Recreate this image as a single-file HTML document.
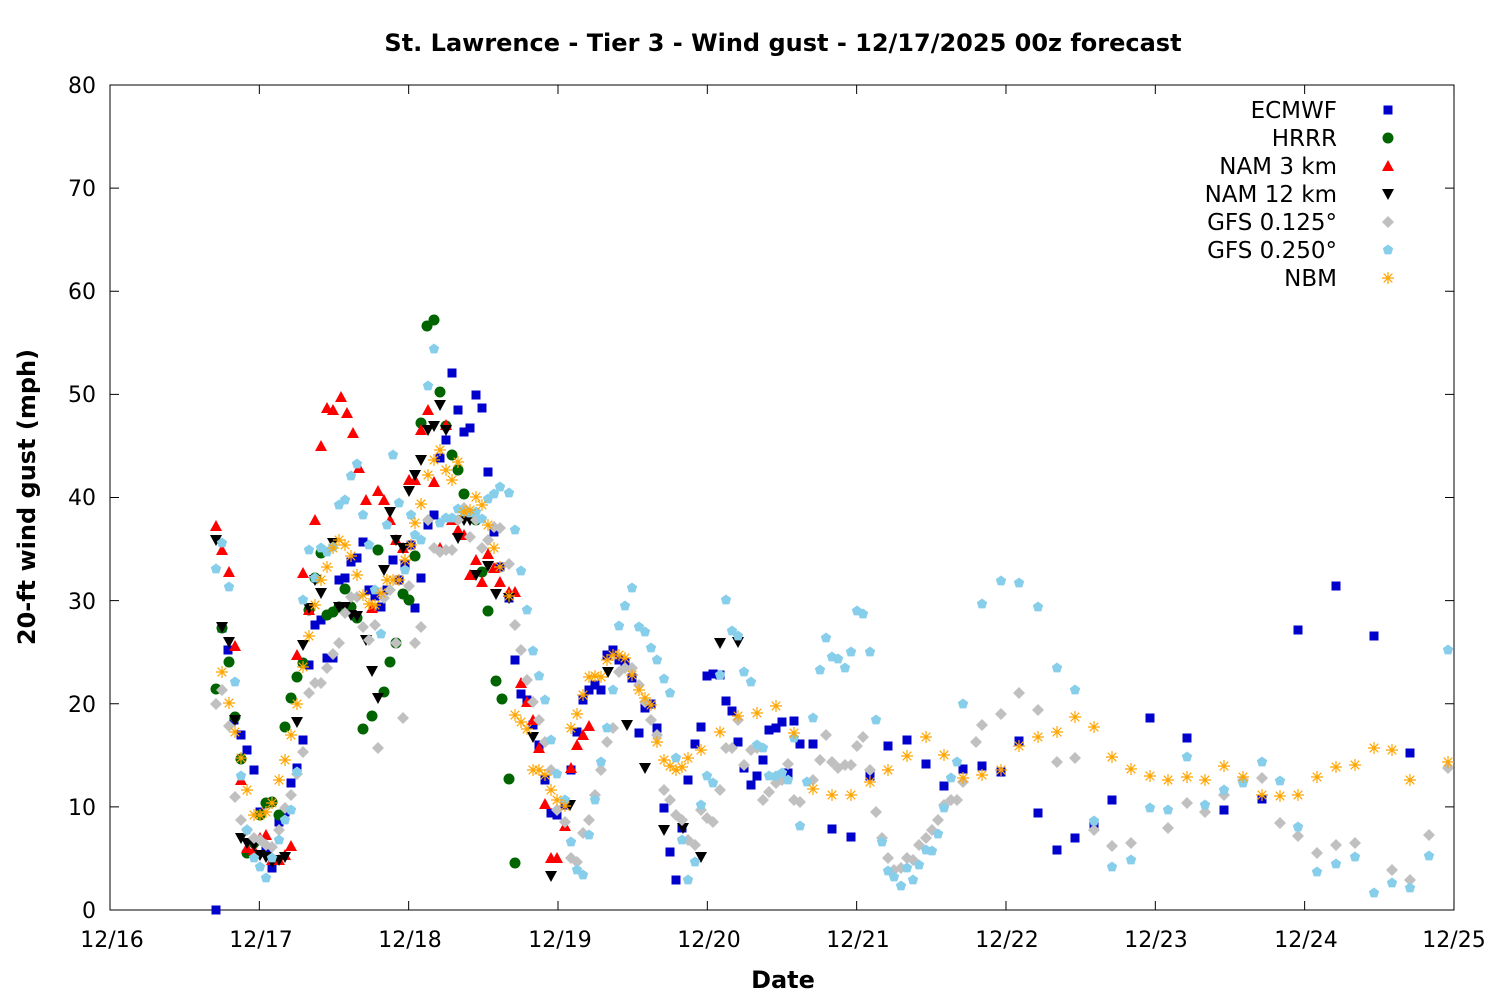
<!DOCTYPE html>
<html><head><meta charset="utf-8"><style>
html,body{margin:0;padding:0;background:#fff;}
svg text{font-family:"DejaVu Sans","Liberation Sans",sans-serif;}
</style></head><body>
<svg id="c" width="1500" height="1000" xmlns="http://www.w3.org/2000/svg">
<rect width="1500" height="1000" fill="#fff"/>
<text x="783" y="51" text-anchor="middle" font-size="24" font-weight="bold">St. Lawrence - Tier 3 - Wind gust - 12/17/2025 00z forecast</text>
<rect x="110" y="85" width="1344" height="825" fill="none" stroke="#000" stroke-width="1"/>
<g id="ticks" stroke="#000" stroke-width="1"></g>
<g font-size="22" text-anchor="end">
<text x="96" y="918">0</text><text x="96" y="815">10</text><text x="96" y="712">20</text><text x="96" y="609">30</text><text x="96" y="505">40</text><text x="96" y="402">50</text><text x="96" y="299">60</text><text x="96" y="196">70</text><text x="96" y="93">80</text>
</g>
<g font-size="22" text-anchor="middle">
<text x="112" y="947">12/16</text><text x="261" y="947">12/17</text><text x="410" y="947">12/18</text><text x="560" y="947">12/19</text><text x="709" y="947">12/20</text><text x="858" y="947">12/21</text><text x="1007" y="947">12/22</text><text x="1156" y="947">12/23</text><text x="1306" y="947">12/24</text><text x="1454" y="947">12/25</text>
</g>
<text x="783" y="988" text-anchor="middle" font-size="24" font-weight="bold">Date</text>
<text transform="translate(35,497) rotate(-90)" text-anchor="middle" font-size="24" font-weight="bold">20-ft wind gust (mph)</text>
<g font-size="23" text-anchor="end">
<text x="1337" y="118">ECMWF</text><text x="1337" y="146">HRRR</text><text x="1337" y="174">NAM 3 km</text><text x="1337" y="202">NAM 12 km</text><text x="1337" y="230">GFS 0.125°</text><text x="1337" y="258">GFS 0.250°</text><text x="1337" y="286">NBM</text>
</g>
<g id="pts"></g>
</svg>
<script>
var NS="http://www.w3.org/2000/svg",g=document.getElementById('pts'),tk=document.getElementById('ticks');
function el(n,a,p){var e=document.createElementNS(NS,n);for(var k in a)e.setAttribute(k,a[k]);(p||g).appendChild(e);return e;}
for(var i=0;i<=8;i++){var y=910-i*103.125;el('line',{x1:110,y1:y,x2:119,y2:y},tk);el('line',{x1:1454,y1:y,x2:1445,y2:y},tk);}
for(var i=0;i<=9;i++){var x=110+i*149.33;el('line',{x1:x,y1:910,x2:x,y2:901},tk);el('line',{x1:x,y1:85,x2:x,y2:94},tk);}
function P(s){var a=s.split(/[^0-9.]+/).filter(function(t){return t!==''}).map(Number),r=[];for(var i=0;i+1<a.length;i+=2)r.push([a[i],a[i+1]]);return r;}
var M={
sq:function(x,y,c){el('rect',{x:x-4.5,y:y-4.5,width:9,height:9,fill:c});},
ci:function(x,y,c){el('circle',{cx:x,cy:y,r:5.5,fill:c});},
tu:function(x,y,c){el('polygon',{points:(x-6)+','+(y+5)+' '+(x+6)+','+(y+5)+' '+x+','+(y-6),fill:c});},
td:function(x,y,c){el('polygon',{points:(x-6)+','+(y-5)+' '+(x+6)+','+(y-5)+' '+x+','+(y+6),fill:c});},
di:function(x,y,c){el('polygon',{points:x+','+(y-6)+' '+(x+6)+','+y+' '+x+','+(y+6)+' '+(x-6)+','+y,fill:c});},
pe:function(x,y,c){var p=[];for(var k=0;k<5;k++){var a=-Math.PI/2+k*2*Math.PI/5;p.push((x+5.5*Math.cos(a)).toFixed(1)+','+(y+5.5*Math.sin(a)).toFixed(1));}el('polygon',{points:p.join(' '),fill:c});},
as:function(x,y,c){var d='M'+(x-6)+' '+y+'h12M'+x+' '+(y-6)+'v12M'+(x-4.3)+' '+(y-4.3)+'l8.6 8.6M'+(x-4.3)+' '+(y+4.3)+'l8.6 -8.6';el('path',{d:d,stroke:c,'stroke-width':1.2,fill:'none'});}
};
var S=[
['sq','#0000cc',"(216,910),(222,628),(228,650),(234,720),(241,735),(247,750),(254,770),(260,812),(266,850),(272,868),(279,822),(285,812),(291,783),(297,768),(303,740),(309,665),(315,625),(321,620),(327,658),(333,658),(339,580),(345,578),(351,562),(357,558),(363,542),(369,590),(375,596),(381,607),(387,590),(393,560),(399,580),(405,565),(411,545),(415,608),(421,578),(428,525),(434,515),(440,458),(446,440),(452,373),(458,410),(464,432),(470,428),(476,395),(482,408),(488,472),(494,532),(500,567),(509,598),(515,660),(521,694),(527,700),(533,725),(539,745),(545,780),(551,813),(557,815),(565,805),(571,770),(577,732),(583,700),(589,690),(595,685),(601,690),(607,655),(613,650),(619,660),(625,662),(632,678),(639,733),(645,708),(651,704),(657,728),(664,808),(670,852),(676,880),(682,828),(688,780),(695,744),(701,727),(707,676),(713,674),(720,675),(726,701),(732,711),(738,742),(744,768),(751,785),(757,776),(763,760),(769,730),(776,728),(782,722),(788,773),(794,721),(800,744),(813,744),(832,829),(851,837),(870,776),(888,746),(907,740),(926,764),(944,786),(963,769),(982,766),(1001,772),(1019,741),(1038,813),(1057,850),(1075,838),(1094,825),(1112,800),(1150,718),(1187,738),(1224,810),(1262,799),(1298,630),(1336,586),(1374,636),(1410,753),(1388,110)"],
['ci','#006400',"(216,689),(222,628),(229,662),(235,717),(241,759),(247,853),(254,843),(260,815),(266,803),(272,802),(279,815),(285,727),(291,698),(297,677),(303,663),(309,610),(315,578),(321,553),(327,615),(333,612),(339,607),(345,589),(351,607),(357,618),(363,729),(372,716),(378,550),(384,692),(390,662),(396,643),(403,594),(409,600),(415,556),(421,423),(427,326),(434,320),(440,392),(446,426),(452,455),(458,470),(464,494),(470,514),(476,520),(482,572),(488,611),(496,681),(502,699),(509,779),(515,863),(1388,138)"],
['tu','#ff0000',"(216,526),(222,550),(229,572),(235,646),(241,780),(247,848),(254,850),(260,838),(266,835),(272,860),(279,860),(285,855),(291,846),(297,655),(303,573),(309,610),(315,520),(321,446),(327,408),(333,410),(341,397),(347,413),(353,433),(359,468),(366,500),(372,608),(378,491),(384,500),(390,520),(396,540),(403,548),(409,480),(415,480),(421,430),(428,410),(434,482),(440,548),(446,425),(452,520),(458,530),(464,535),(470,575),(476,560),(482,582),(488,554),(494,568),(500,582),(509,592),(515,592),(521,683),(527,702),(533,720),(539,748),(545,804),(551,858),(557,858),(565,826),(571,768),(577,745),(583,735),(589,726),(1388,166)"],
['td','#000000',"(216,540),(222,627),(229,642),(235,720),(241,838),(247,843),(254,845),(260,855),(266,857),(272,862),(279,860),(285,857),(297,722),(303,645),(309,608),(315,580),(321,593),(333,543),(339,607),(345,607),(351,615),(357,616),(366,640),(372,671),(378,698),(384,570),(390,512),(396,540),(403,548),(409,491),(415,475),(421,460),(428,430),(434,426),(440,405),(446,430),(458,538),(464,520),(470,520),(476,575),(488,566),(496,594),(509,598),(533,737),(551,876),(570,805),(608,672),(627,725),(645,768),(664,830),(683,828),(701,857),(720,643),(738,642),(1388,194)"],
['di','#c0c0c0',"(216,704),(222,690),(229,726),(235,797),(241,820),(247,830),(254,838),(260,840),(266,845),(272,847),(279,830),(285,808),(291,795),(297,774),(303,752),(309,693),(315,683),(321,683),(327,668),(333,654),(339,643),(345,613),(351,597),(357,597),(363,627),(369,640),(375,625),(378,748),(384,598),(390,590),(396,643),(403,718),(409,586),(415,643),(421,627),(428,520),(434,548),(440,552),(446,550),(452,550),(458,520),(464,508),(470,537),(476,520),(482,548),(488,540),(494,527),(500,528),(509,564),(515,625),(521,650),(527,680),(533,702),(539,720),(545,742),(551,770),(557,810),(565,822),(571,858),(577,862),(583,833),(589,820),(595,795),(601,770),(607,742),(613,728),(619,672),(625,668),(632,668),(639,685),(645,702),(651,720),(657,735),(664,790),(670,800),(676,815),(682,820),(688,840),(695,845),(701,810),(707,818),(713,822),(720,790),(726,748),(732,748),(738,720),(744,765),(751,750),(757,748),(763,800),(769,792),(776,783),(782,780),(788,764),(794,800),(800,802),(813,780),(820,760),(826,735),(832,762),(838,768),(845,765),(851,765),(857,746),(863,737),(870,770),(876,812),(882,838),(888,858),(894,870),(901,868),(907,858),(913,860),(919,845),(926,838),(932,830),(938,820),(944,805),(951,800),(957,800),(963,782),(976,742),(982,725),(1001,714),(1019,693),(1038,710),(1057,762),(1075,758),(1094,830),(1112,846),(1131,843),(1168,828),(1187,803),(1205,812),(1224,795),(1243,780),(1262,778),(1280,823),(1298,836),(1317,853),(1336,845),(1355,843),(1392,870),(1410,880),(1429,835),(1448,768),(1388,222)"],
['pe','#87ceeb',"(216,569),(222,543),(229,587),(235,682),(241,776),(247,830),(254,858),(260,867),(266,878),(272,858),(279,840),(285,820),(291,810),(297,772),(303,600),(309,550),(315,578),(321,548),(327,552),(333,547),(339,505),(345,500),(351,476),(357,464),(363,515),(369,545),(375,590),(381,634),(387,525),(393,455),(399,503),(405,570),(411,515),(415,535),(421,540),(428,386),(434,349),(440,523),(446,518),(452,518),(458,509),(464,512),(470,513),(476,512),(482,519),(488,499),(494,494),(500,487),(509,493),(515,530),(521,571),(527,610),(533,651),(539,676),(545,700),(551,740),(557,774),(565,800),(571,842),(577,870),(583,875),(589,835),(595,800),(601,762),(607,728),(613,690),(619,626),(625,606),(632,588),(639,627),(645,632),(651,648),(657,660),(664,679),(670,693),(676,758),(682,840),(688,880),(695,862),(701,805),(707,776),(713,783),(720,675),(726,600),(732,631),(738,636),(744,672),(751,682),(757,745),(763,748),(769,776),(776,776),(782,773),(788,780),(794,738),(800,826),(807,782),(813,718),(820,670),(826,638),(832,657),(838,659),(845,668),(851,652),(857,611),(863,614),(870,652),(876,720),(882,842),(888,871),(894,877),(901,886),(907,868),(913,880),(919,865),(926,850),(932,851),(938,834),(944,808),(951,778),(957,762),(963,704),(982,604),(1001,581),(1019,583),(1038,607),(1057,668),(1075,690),(1094,821),(1112,867),(1131,860),(1150,808),(1168,810),(1187,757),(1205,805),(1224,790),(1243,783),(1262,762),(1280,781),(1298,827),(1317,872),(1336,864),(1355,857),(1374,893),(1392,883),(1410,888),(1429,856),(1448,650),(1388,250)"],
['as','#ffa500',"(222,672),(229,703),(235,732),(241,758),(247,790),(254,815),(260,815),(266,812),(272,803),(279,780),(285,760),(291,735),(297,704),(303,667),(309,636),(315,605),(321,580),(327,567),(333,548),(339,540),(345,545),(351,556),(357,575),(363,595),(369,604),(375,605),(381,593),(387,580),(393,580),(399,580),(405,560),(411,545),(415,523),(421,504),(428,475),(434,460),(440,450),(446,470),(452,480),(458,462),(464,512),(470,510),(476,497),(482,505),(488,525),(494,548),(500,567),(509,596),(515,715),(521,722),(527,729),(533,770),(539,770),(545,775),(551,790),(557,800),(565,806),(571,728),(577,714),(583,695),(589,677),(595,676),(601,677),(607,660),(613,655),(619,655),(625,658),(632,675),(639,690),(645,698),(651,705),(657,742),(664,760),(670,766),(676,770),(682,767),(688,758),(701,750),(720,732),(738,716),(757,713),(776,706),(794,733),(813,789),(832,795),(851,795),(870,782),(888,770),(907,756),(926,737),(944,755),(963,778),(982,775),(1001,770),(1019,746),(1038,737),(1057,732),(1075,717),(1094,727),(1112,757),(1131,769),(1150,776),(1168,780),(1187,777),(1205,780),(1224,766),(1243,777),(1262,795),(1280,796),(1298,795),(1317,777),(1336,767),(1355,765),(1374,748),(1392,750),(1410,780),(1448,762),(1388,278)"]
];
S.forEach(function(s){P(s[2]).forEach(function(p){M[s[0]](p[0],p[1],s[1]);});});
</script>
</body></html>
